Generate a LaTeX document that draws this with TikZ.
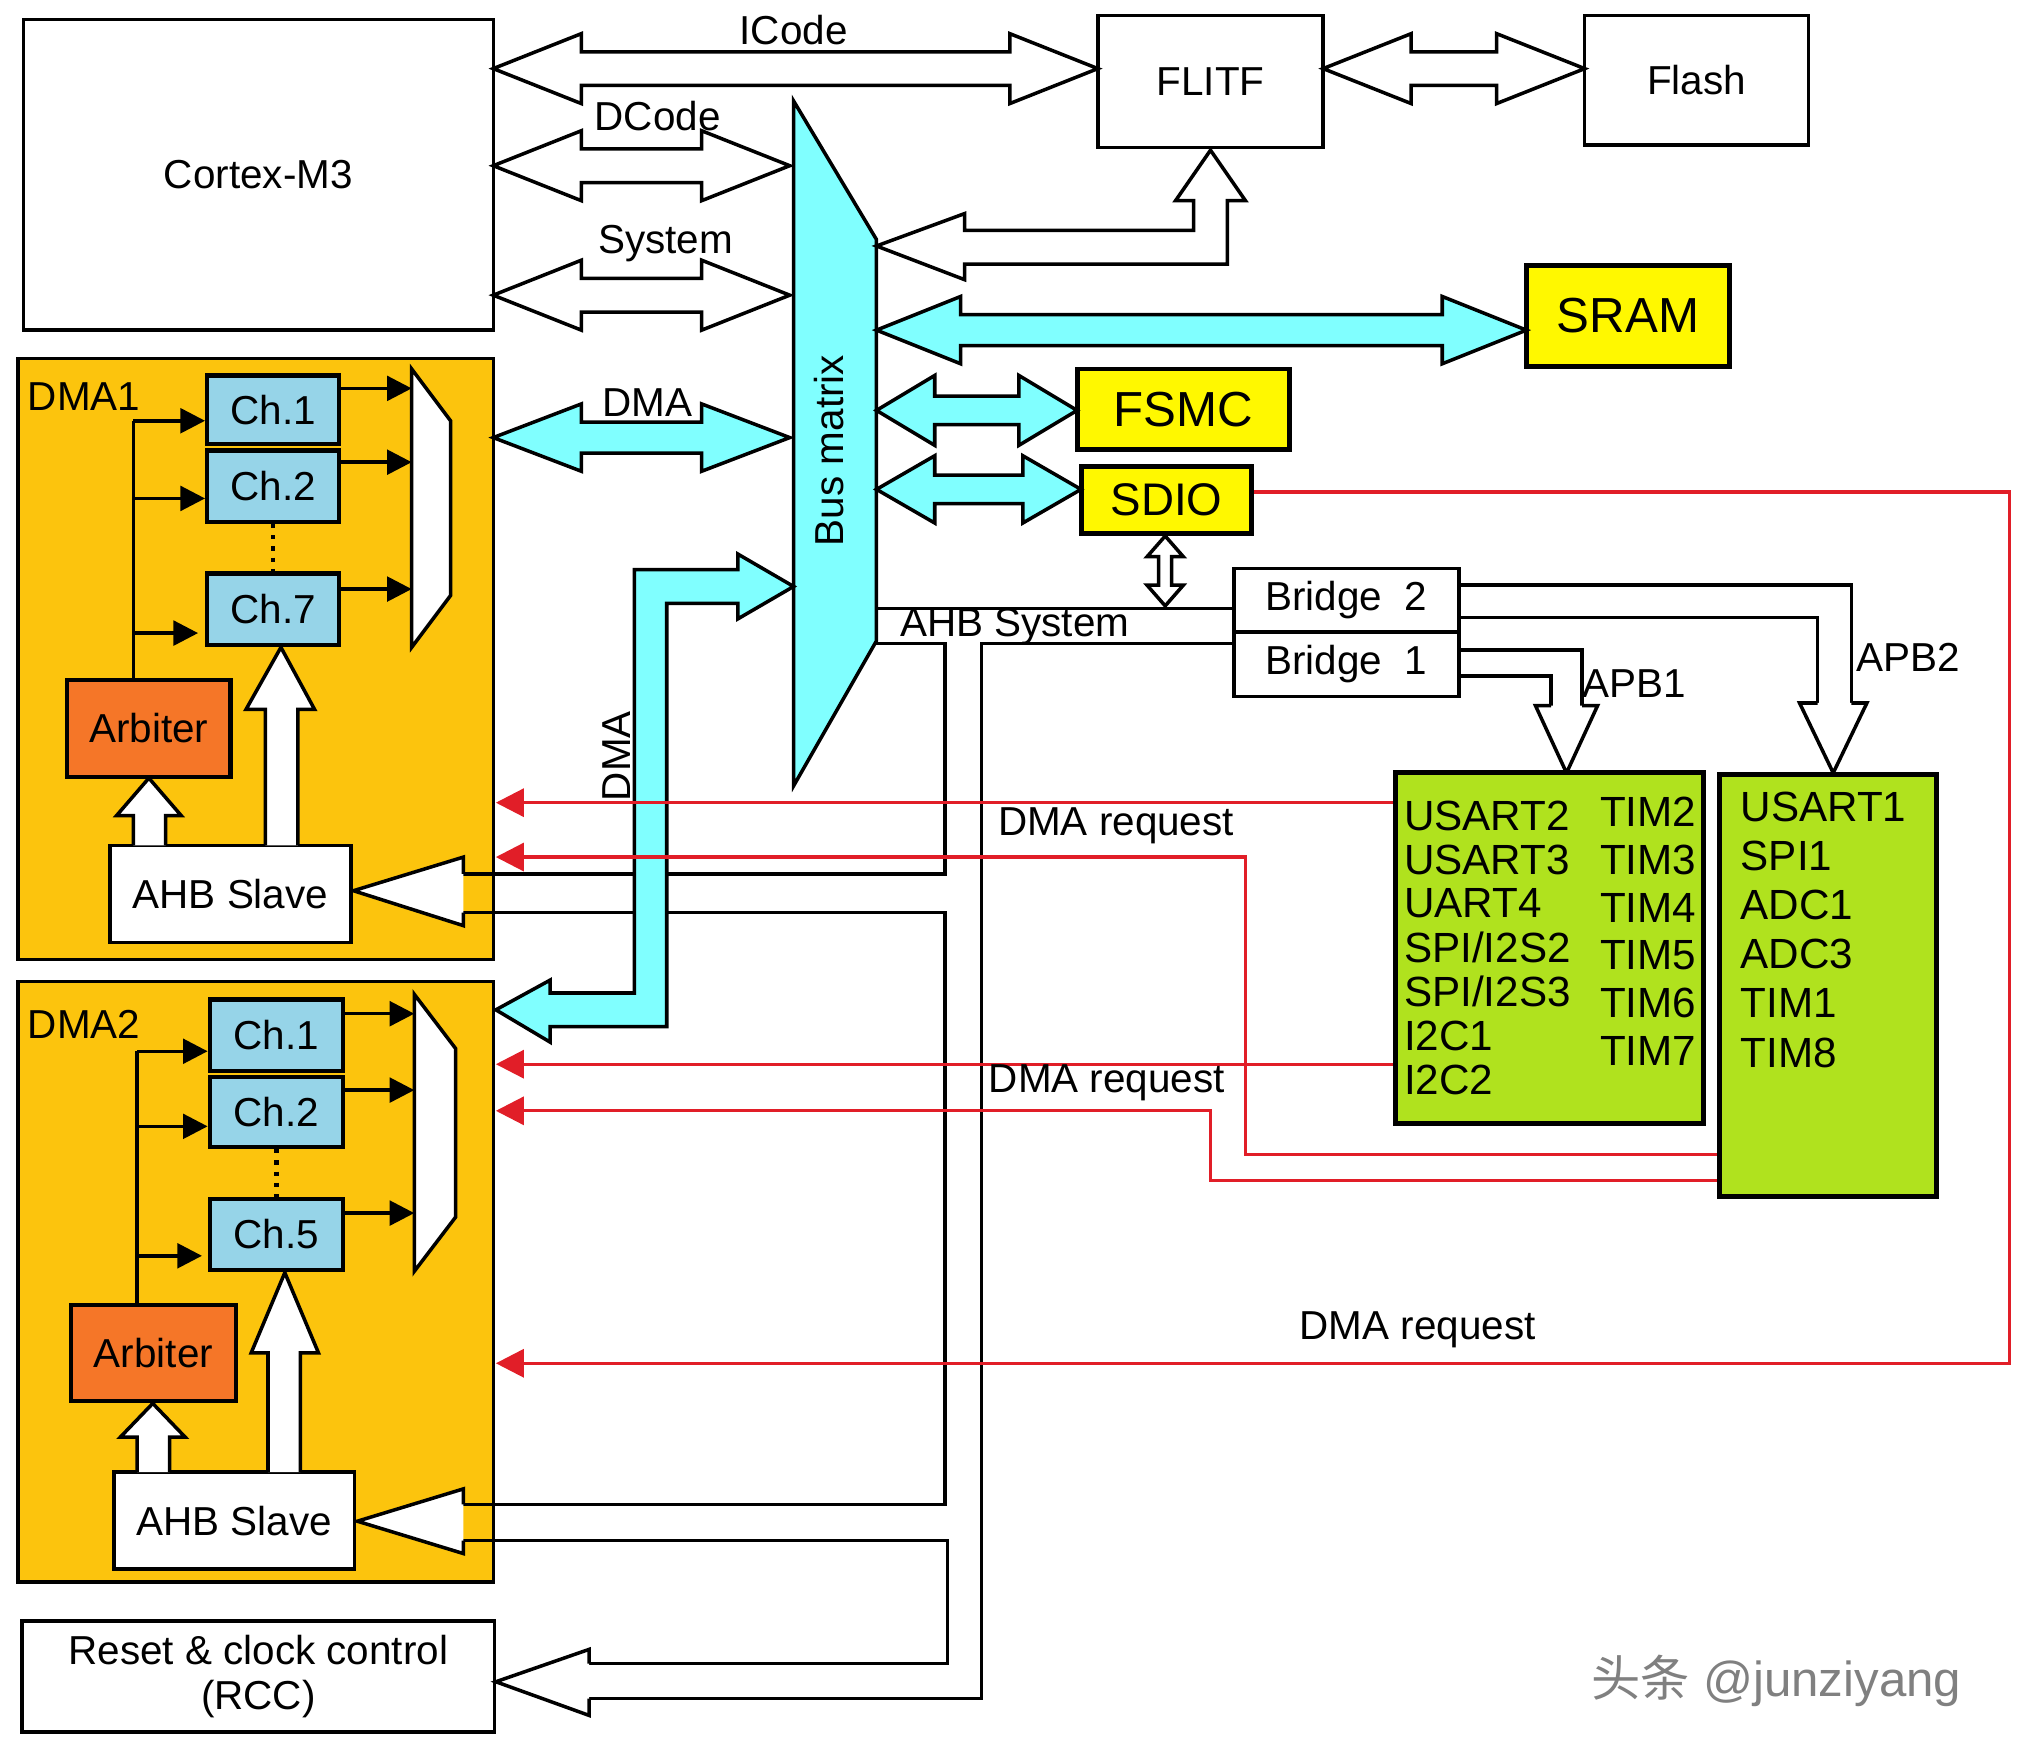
\documentclass[tikz,border=0pt]{standalone}
\usepackage{fontspec}
\setmainfont{Liberation Sans}
\newfontfamily\cjk{Noto Sans CJK SC}
\usetikzlibrary{arrows.meta}
\definecolor{dmaorange}{RGB}{252,196,13}
\definecolor{arbcol}{RGB}{245,118,40}
\definecolor{chblue}{RGB}{150,212,232}
\definecolor{buscyan}{RGB}{128,255,255}
\definecolor{memyellow}{RGB}{255,248,0}
\definecolor{apbgreen}{RGB}{176,226,30}
\definecolor{reqred}{RGB}{225,30,40}
% block: name, x1, y1, x2, y2, style, text
\newcommand{\blk}[7]{\node[#6, minimum width={(#4-#2)*0.012946cm}, minimum height={(#5-#3)*0.012946cm}] (#1) at ({(#2+#4)/2},{(#3+#5)/2}) {#7};}
% hollow double arrow: x1, x2, y, half shaft, half head, head length, style
\newcommand{\hdbl}[7]{\filldraw[#7] (#1,#3) -- ({#1+#6},{#3-#5}) -- ({#1+#6},{#3-#4}) -- ({#2-#6},{#3-#4}) -- ({#2-#6},{#3-#5}) -- (#2,#3) -- ({#2-#6},{#3+#5}) -- ({#2-#6},{#3+#4}) -- ({#1+#6},{#3+#4}) -- ({#1+#6},{#3+#5}) -- cycle;}
\tikzset{
  box/.style={draw, line width=1pt, inner sep=0pt, font=\fontsize{11.5}{13}\selectfont},
  big/.style={box, line width=1.4pt, fill=memyellow, font=\fontsize{14}{16}\selectfont},
  ch/.style={box, fill=chblue, line width=1.2pt},
  arb/.style={box, fill=arbcol, line width=1.2pt},
  lbl/.style={inner sep=1pt, font=\fontsize{11.5}{13}\selectfont},
  apb/.style={inner sep=0pt, anchor=west, font=\fontsize{12}{14}\selectfont},
  tri/.style={-{Triangle[length=7pt,width=7pt]}, line width=1pt},
  req/.style={reqred, line width=0.9pt, -{Triangle[length=8pt,width=8pt]}},
  hol/.style={draw, fill=white, line width=1pt},
  cy/.style={draw, fill=buscyan, line width=1pt}
}
\begin{document}
\begin{tikzpicture}[x=0.012946cm, y=-0.012946cm]
\useasboundingbox (0,0) rectangle (1568,1354);

% DMA controllers
\blk{dmaa}{14}{277}{381}{741}{box, fill=dmaorange}{}
\blk{dmab}{14}{758}{381}{1222}{box, fill=dmaorange}{}
\node[lbl] (dmaal) at (65,306) {DMA1};
\node[lbl] (dmabl) at (65,791) {DMA2};

% top blocks
\blk{cm3}{18}{15}{381}{255}{box}{Cortex-M3}
\blk{flitf}{848}{12}{1022}{114}{box}{FLITF}
\blk{flash}{1224}{12}{1397}{112}{box}{Flash}
\blk{sram}{1179}{205}{1336}{283}{big}{SRAM}
\blk{fsmc}{832}{285}{996}{347}{big}{FSMC}
\blk{sdio}{835}{360}{967}{412}{big, font=\fontsize{13}{15}\selectfont}{SDIO}
\blk{brb}{953}{439}{1127}{488}{box}{Bridge\ \ 2}
\blk{bra}{953}{488}{1127}{538}{box}{Bridge\ \ 1}
\blk{rcc}{17}{1252}{382}{1338}{box, align=center}{Reset \& clock control\\(RCC)}

% bus matrix
\filldraw[cy] (613,78) -- (677,185) -- (677,495) -- (613,607) -- cycle;
\node[lbl, rotate=90] (bm) at (640,348) {Bus matrix};

% core buses
\hdbl{381}{848}{53}{13}{27}{68}{hol}
\hdbl{381}{610}{128}{13}{27}{68}{hol}
\hdbl{381}{610}{228}{13}{27}{68}{hol}
\hdbl{1022}{1224}{53}{13}{27}{68}{hol}
\hdbl{381}{610}{338}{12}{26}{68}{cy}
\hdbl{677}{1179}{255}{12}{26}{65}{cy}
\hdbl{677}{832}{317}{11}{27}{45}{cy}
\hdbl{677}{835}{378}{11}{26}{45}{cy}
\node[lbl] (ic) at (613,23) {ICode};
\node[lbl] (dc) at (508,90) {DCode};
\node[lbl] (sy) at (514,188) {System};
\node[lbl] (dm) at (500,311) {DMA};

% bus matrix to FLITF
\filldraw[hol] (677,190) -- (745,165) -- (745,178) -- (922,178) -- (922,155) -- (908,155) -- (935,116) -- (962,155) -- (948,155) -- (948,204) -- (745,204) -- (745,216) -- cycle;

% SDIO to bridge
\filldraw[hol] (900,414) -- (914,430) -- (905,430) -- (905,452) -- (914,452) -- (900,468) -- (886,452) -- (895,452) -- (895,430) -- (886,430) -- cycle;

% AHB system
\draw[line width=1pt] (953,470) -- (677,470);
\draw[line width=1pt] (677,497) -- (730,497) -- (730,675) -- (358,675);
\draw[line width=1pt] (358,705) -- (730,705) -- (730,1162) -- (358,1162);
\draw[line width=1pt] (358,1190) -- (732,1190) -- (732,1285) -- (455,1285);
\draw[line width=1pt] (455,1312) -- (758,1312) -- (758,497) -- (953,497);
\filldraw[hol] (358,675) -- (358,662) -- (273,688) -- (358,715) -- (358,705);
\filldraw[hol] (358,1162) -- (358,1150) -- (276,1175) -- (358,1200) -- (358,1190);
\filldraw[hol] (455,1285) -- (455,1274) -- (383,1299) -- (455,1325) -- (455,1312);
\node[lbl, anchor=west] (ahb) at (692,484) {AHB System};

% DMA path to DMA2
\filldraw[cy] (613,453) -- (570,428) -- (570,440) -- (490,440) -- (490,767) -- (425,767) -- (425,757) -- (383,780) -- (425,805) -- (425,793) -- (515,793) -- (515,466) -- (570,466) -- (570,478) -- cycle;
\node[lbl, rotate=90] (dmv) at (476,584) {DMA};

% APB bridges
\draw[line width=1pt] (1127,452) -- (1430,452) -- (1430,543);
\draw[line width=1pt] (1127,477) -- (1404,477) -- (1404,543);
\filldraw[hol] (1430,543) -- (1442,543) -- (1416,597) -- (1390,543) -- (1404,543);
\draw[line width=1pt] (1127,502) -- (1222,502) -- (1222,545);
\draw[line width=1pt] (1127,522) -- (1198,522) -- (1198,545);
\filldraw[hol] (1222,545) -- (1234,545) -- (1210,597) -- (1186,545) -- (1198,545);
\node[lbl] (apbal) at (1262,528) {APB1};
\node[lbl] (apbbl) at (1474,508) {APB2};

% peripherals
\blk{pa}{1078}{597}{1316}{868}{box, fill=apbgreen, line width=1.4pt}{}
\blk{pb}{1328}{598}{1496}{924}{box, fill=apbgreen, line width=1.4pt}{}
\foreach \t [count=\i] in {USART2,USART3,UART4,SPI/I2S2,SPI/I2S3,I2C1,I2C2}
  \node[apb] (pal\i) at (1084,{596+34*\i}) {\t};
\foreach \t [count=\i] in {TIM2,TIM3,TIM4,TIM5,TIM6,TIM7}
  \node[apb, anchor=center] (par\i) at (1273,{590+37*\i}) {\t};
\foreach \t [count=\i] in {USART1,SPI1,ADC1,ADC3,TIM1,TIM8}
  \node[apb] (pbl\i) at (1344,{585+38*\i}) {\t};

% DMA1 internals
\blk{ca}{160}{290}{262}{343}{ch}{Ch.1}
\blk{cb}{160}{348}{262}{403}{ch}{Ch.2}
\blk{cg}{160}{443}{262}{498}{ch}{Ch.7}
\draw[dotted, line width=1.2pt] (cb.south) -- (cg.north);
\filldraw[hol] (318,285) -- (348,325) -- (348,460) -- (318,500) -- cycle;
\blk{arba}{52}{525}{178}{600}{arb}{Arbiter}
\blk{slva}{85}{653}{271}{728}{box, fill=white}{AHB Slave}
\draw[line width=1pt] (103,525) -- (103,325);
\draw[tri] (103,325) -- (ca.west |- 103,325);
\draw[tri] (103,385) -- (cb.west |- 103,385);
\draw[tri] (103,489) -- (153,489);
\draw[tri] (ca.east |- 262,300) -- (318,300);
\draw[tri] (cb.east |- 262,357) -- (318,357);
\draw[tri] (cg.east |- 262,455) -- (318,455);
\filldraw[hol] (205,653) -- (205,548) -- (190,548) -- (217,500) -- (243,548) -- (230,548) -- (230,653);
\filldraw[hol] (103,653) -- (103,630) -- (90,630) -- (115,601) -- (140,630) -- (128,630) -- (128,653);

% DMA2 internals
\blk{cc}{162}{772}{265}{827}{ch}{Ch.1}
\blk{cd}{162}{832}{265}{886}{ch}{Ch.2}
\blk{ce}{162}{926}{265}{981}{ch}{Ch.5}
\draw[dotted, line width=1.2pt] (cd.south) -- (ce.north);
\filldraw[hol] (320,768) -- (352,810) -- (352,940) -- (320,982) -- cycle;
\blk{arbb}{55}{1008}{182}{1082}{arb}{Arbiter}
\blk{slvb}{88}{1137}{274}{1212}{box, fill=white}{AHB Slave}
\draw[line width=1pt] (106,1008) -- (106,812);
\draw[tri] (106,812) -- (cc.west |- 106,812);
\draw[tri] (106,870) -- (cd.west |- 106,870);
\draw[tri] (106,970) -- (156,970);
\draw[tri] (cc.east |- 265,783) -- (320,783);
\draw[tri] (cd.east |- 265,842) -- (320,842);
\draw[tri] (ce.east |- 265,937) -- (320,937);
\filldraw[hol] (207,1137) -- (207,1045) -- (194,1045) -- (220,983) -- (246,1045) -- (232,1045) -- (232,1137);
\filldraw[hol] (106,1137) -- (106,1110) -- (93,1110) -- (118,1084) -- (143,1110) -- (131,1110) -- (131,1137);

% DMA requests
\draw[req] (pa.west |- 1078,620) -- (383,620);
\draw[req] (pb.west |- 1328,892) -- (962,892) -- (962,662) -- (383,662);
\draw[req] (pa.west |- 1078,822) -- (383,822);
\draw[req] (pb.west |- 1328,912) -- (935,912) -- (935,858) -- (383,858);
\draw[req] (sdio.east |- 967,380) -- (1552,380) -- (1552,1053) -- (383,1053);
\node[lbl] (rqa) at (862,638) {DMA request};
\node[lbl] (rqb) at (855,836) {DMA request};
\node[lbl] (rqc) at (1095,1027) {DMA request};

\node[text=gray, font=\fontsize{14}{16}\selectfont] (wm) at (1372,1298) {{\cjk 头条} @junziyang};
\end{tikzpicture}
\end{document}
